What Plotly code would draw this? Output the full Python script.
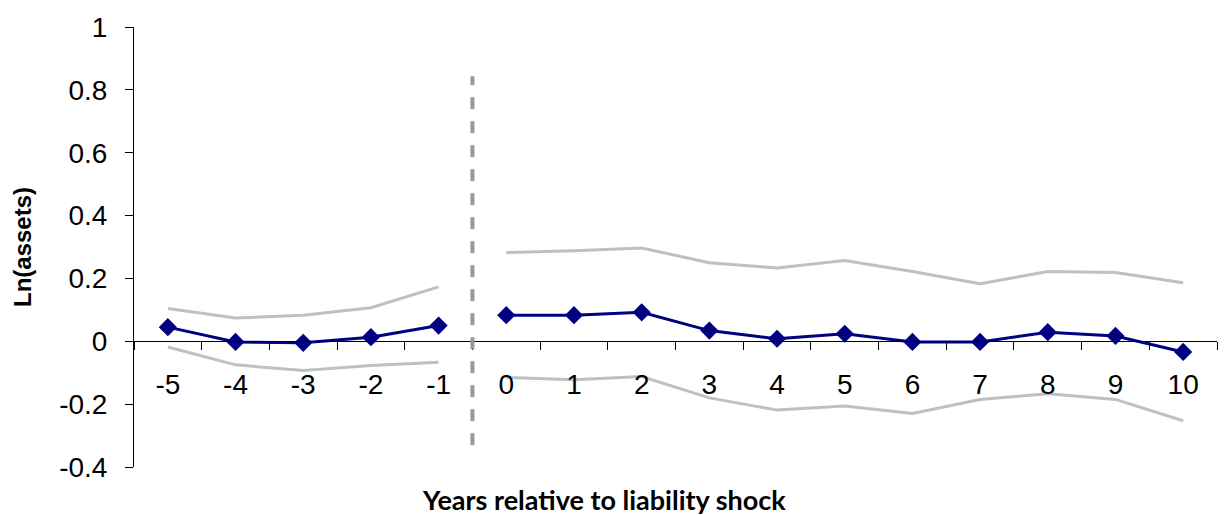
import plotly.graph_objects as go

# Event-time axis: years relative to the liability shock
years = ["-5", "-4", "-3", "-2", "-1", "0", "1", "2", "3", "4", "5", "6", "7", "8", "9", "10"]

# Point estimates of ln(assets) and the 95% confidence bounds
estimate = [0.045, -0.002, -0.005, 0.013, 0.050, 0.083, 0.083, 0.092, 0.034, 0.008,
            0.024, -0.002, -0.002, 0.029, 0.017, -0.034]
upper = [0.104, 0.074, 0.083, 0.107, 0.173, 0.282, 0.288, 0.297, 0.250, 0.233,
         0.257, 0.222, 0.183, 0.222, 0.219, 0.186]
lower = [-0.018, -0.075, -0.093, -0.077, -0.067, -0.115, -0.122, -0.112, -0.180, -0.219,
         -0.206, -0.230, -0.185, -0.167, -0.185, -0.253]

# Value-axis ticks (plain hyphen for negatives)
y_ticks = [-0.4, -0.2, 0, 0.2, 0.4, 0.6, 0.8, 1]
y_tick_text = ["-0.4", "-0.2", "0", "0.2", "0.4", "0.6", "0.8", "1"]

# Pre- and post-shock segments are drawn separately (no line across the shock)
pre = slice(0, 5)
post = slice(5, 16)

Y_MIN, Y_MAX = -0.4, 1.0
BAND_COLOR = "#c0c0c0"
EST_COLOR = "#000080"

fig = go.Figure()

for seg in (pre, post):
    for band in (upper, lower):
        fig.add_trace(go.Scatter(
            x=years[seg], y=band[seg], mode="lines",
            line=dict(color=BAND_COLOR, width=3), hoverinfo="skip", showlegend=False,
        ))
    fig.add_trace(go.Scatter(
        x=years[seg], y=estimate[seg], mode="lines+markers",
        line=dict(color=EST_COLOR, width=3),
        marker=dict(symbol="diamond", size=14, color=EST_COLOR),
        showlegend=False,
    ))

# Dashed marker at the time of the liability shock (between -1 and 0)
fig.add_shape(type="line", xref="x", yref="y", x0=4.5, x1=4.5, y0=-0.331, y1=0.843,
              line=dict(color="#999999", width=4, dash="dash"))

tick_font = dict(family="Liberation Sans, Arial, sans-serif", size=28, color="black")

fig.update_layout(
    width=1231, height=515,
    margin=dict(l=134, r=14, t=20, b=48),
    paper_bgcolor="white", plot_bgcolor="white",
    xaxis=dict(
        type="category", categoryorder="array", categoryarray=years,
        range=[-0.5, 15.5],
        anchor="free", position=(0 - Y_MIN) / (Y_MAX - Y_MIN),
        showline=True, linecolor="black", linewidth=1,
        ticks="outside", tickson="boundaries", ticklen=8, tickcolor="black",
        tickfont=tick_font, ticklabelstandoff=18,
        showgrid=False, zeroline=False,
    ),
    yaxis=dict(
        range=[Y_MIN, Y_MAX], tickvals=y_ticks, ticktext=y_tick_text,
        showline=True, linecolor="black", linewidth=1,
        ticks="outside", ticklen=8, tickcolor="black",
        tickfont=tick_font, ticklabelstandoff=12,
        showgrid=False, zeroline=False,
        title=dict(text="Ln(assets)", standoff=20,
                   font=dict(family="Liberation Sans, Arial, sans-serif", size=24,
                             color="black", weight="bold")),
    ),
    annotations=[dict(
        text="Years relative to liability shock", xref="paper", yref="paper",
        x=0.434, y=-0.074, xanchor="center", yanchor="middle", showarrow=False,
        font=dict(family="Lato, Open Sans, sans-serif", size=27, color="black", weight="bold"),
    )],
)

fig.write_html("out.html")
